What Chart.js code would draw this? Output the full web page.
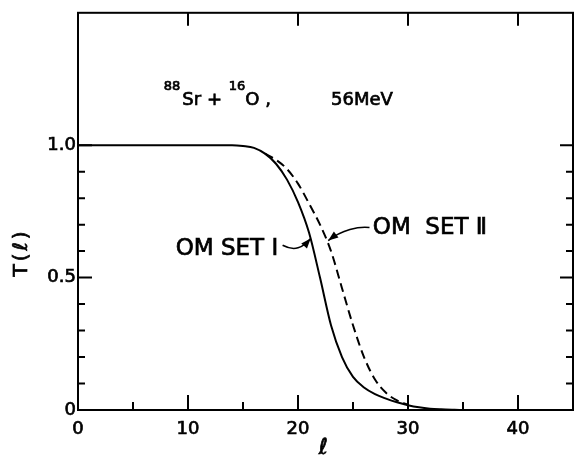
<!DOCTYPE html>
<html><head><meta charset="utf-8">
<script src="https://cdn.jsdelivr.net/npm/chart.js@4.4.1/dist/chart.umd.min.js"></script>
<style>html,body{margin:0;padding:0;background:#fff;}#wrap{width:575px;height:458px;position:relative;}</style>
</head><body><div id="wrap"><canvas id="c"></canvas></div>
<script>
// ---- data ----
const ellSetI = [0,2,4,6,8,10,12,14,15,16,17,18,19,20,21,22,23,24,25,26,27,28,29,30,31,32,33,34,35,36];
const tSetI   = [1,1,1,1,1,1,1,1,0.997,0.99,0.968,0.93,0.87,0.785,0.67,0.50,0.32,0.20,0.125,0.085,0.06,0.043,0.029,0.018,0.01,0.005,0.0025,0.001,0,0];
const ellSetII = [17,18,19,20,21,22,23,24,25,26,27,28,29,30];
const tSetII   = [0.968,0.945,0.91,0.855,0.78,0.70,0.60,0.46,0.32,0.20,0.115,0.065,0.036,0.02];
const xTickValues = [0,10,20,30,40];
const xTickLabels = ['0','10','20','30','40'];
const xMinorValues = [5,15,25,35];
const yTickValues = [0,0.5,1.0];
const yTickLabels = ['0','0.5','1.0'];
const yMinorValues = [0.1,0.2,0.3,0.4,0.6,0.7,0.8,0.9];
const labelSetI = 'OM SET Ⅰ';
const labelSetII = 'OM  SET Ⅱ';
// annotation anchor points in data units
const labelSetIPos = [18.2, 0.608];   // right end of text
const labelSetIIPos = [26.8, 0.687];  // left end of text
const arrowSetI = [[18.6,0.622],[19.7,0.598],[20.4,0.612],[21.15,0.648]];
const arrowSetII = [[26.5,0.689],[25.5,0.694],[24.0,0.680],[22.75,0.640]];
const titlePos = [7.8, 1.15];
const yTitlePos = 0.595;
const xTitlePos = 22.3;

const FONT = "'DejaVu Sans', sans-serif";

const pts = (xs, ys) => xs.map((x, i) => ({x: x, y: ys[i]}));

const decor = {
  id: 'decor',
  afterDraw(chart) {
    const ctx = chart.ctx, a = chart.chartArea;
    const xs = chart.scales.x, ys = chart.scales.y;
    const px = v => xs.getPixelForValue(v), py = v => ys.getPixelForValue(v);
    const txt = (s, x, y) => { ctx.fillText(s, x, y); ctx.strokeText(s, x, y); };
    ctx.save();
    ctx.strokeStyle = '#000'; ctx.fillStyle = '#000';
    ctx.lineWidth = 2;
    ctx.strokeRect(a.left, a.top, a.right - a.left, a.bottom - a.top);
    ctx.beginPath();
    // bottom ticks (inward)
    xTickValues.forEach(v => { if (v > 0) { ctx.moveTo(px(v), a.bottom); ctx.lineTo(px(v), a.bottom - 15); } });
    xMinorValues.forEach(v => { ctx.moveTo(px(v), a.bottom); ctx.lineTo(px(v), a.bottom - 8); });
    // top ticks
    xTickValues.forEach(v => { if (v > 0) { ctx.moveTo(px(v), a.top); ctx.lineTo(px(v), a.top + 13); } });
    // left & right ticks
    yTickValues.forEach(v => { if (v > 0) {
      ctx.moveTo(a.left, py(v)); ctx.lineTo(a.left + 14, py(v));
      ctx.moveTo(a.right, py(v)); ctx.lineTo(a.right - 13, py(v)); } });
    yMinorValues.forEach(v => {
      ctx.moveTo(a.left, py(v)); ctx.lineTo(a.left + 7, py(v));
      ctx.moveTo(a.right, py(v)); ctx.lineTo(a.right - 7, py(v)); });
    ctx.stroke();

    ctx.lineWidth = 0.7;
    // title  88Sr + 16O,   56MeV
    ctx.textBaseline = 'alphabetic'; ctx.textAlign = 'left';
    let x = px(titlePos[0]); const yb = py(titlePos[1]);
    const parts = [['88',13,-15,2],['Sr + ',18,0,1],['16',13,-15,0],['O ,',18,0,0]];
    parts.forEach(p => { ctx.font = p[1] + 'px ' + FONT; txt(p[0], x, yb + p[2]); x += ctx.measureText(p[0]).width + p[3]; });
    ctx.font = '18px ' + FONT;
    txt('56MeV', px(23.0), yb);

    // curve labels
    ctx.font = '23px ' + FONT;
    ctx.textBaseline = 'middle';
    ctx.textAlign = 'right';
    txt(labelSetI, px(labelSetIPos[0]), py(labelSetIPos[1]));
    ctx.textAlign = 'left';
    txt(labelSetII, px(labelSetIIPos[0]), py(labelSetIIPos[1]));

    // axis titles
    ctx.textAlign = 'center';
    ctx.save();
    ctx.translate(a.left - 56, py(yTitlePos));
    ctx.rotate(-Math.PI / 2);
    ctx.font = '20px ' + FONT;
    ctx.letterSpacing = '3px';
    txt('T(ℓ)', 0, 0);
    ctx.restore();
    ctx.font = 'italic 22px ' + FONT;
    txt('ℓ', px(xTitlePos), a.bottom + 38);

    // arrows
    const drawArrow = (pp) => {
      const p = pp.map(q => [px(q[0]), py(q[1])]);
      ctx.lineWidth = 1.6;
      ctx.beginPath();
      ctx.moveTo(p[0][0], p[0][1]);
      ctx.bezierCurveTo(p[1][0], p[1][1], p[2][0], p[2][1], p[3][0], p[3][1]);
      ctx.stroke();
      const ang = Math.atan2(p[3][1] - p[2][1], p[3][0] - p[2][0]);
      const L = 10, W = 3.8;
      ctx.beginPath();
      ctx.moveTo(p[3][0], p[3][1]);
      ctx.lineTo(p[3][0] - L*Math.cos(ang) + W*Math.sin(ang), p[3][1] - L*Math.sin(ang) - W*Math.cos(ang));
      ctx.lineTo(p[3][0] - L*Math.cos(ang) - W*Math.sin(ang), p[3][1] - L*Math.sin(ang) + W*Math.cos(ang));
      ctx.closePath(); ctx.fill();
    };
    drawArrow(arrowSetI);
    drawArrow(arrowSetII);
    ctx.restore();
  }
};

new Chart(document.getElementById('c'), {
  type: 'line',
  data: {
    datasets: [
      { label: 'OM SET I', data: pts(ellSetI, tSetI), borderColor: '#000', borderWidth: 2,
        pointRadius: 0, fill: false, cubicInterpolationMode: 'monotone' },
      { label: 'OM SET II', data: pts(ellSetII, tSetII), borderColor: '#000', borderWidth: 2,
        borderDash: [9, 5], pointRadius: 0, fill: false, cubicInterpolationMode: 'monotone' }
    ]
  },
  options: {
    responsive: true, maintainAspectRatio: false, animation: false, devicePixelRatio: 1,
    layout: { padding: { top: 7, right: 2, left: 0, bottom: 0 } },
    plugins: { legend: { display: false }, tooltip: { enabled: false } },
    scales: {
      x: {
        type: 'linear', min: 0, max: 45,
        afterBuildTicks: s => { s.ticks = xTickValues.map(v => ({ value: v })); },
        afterFit: s => { s.height = 48; },
        grid: { display: false, drawTicks: false }, border: { display: false },
        ticks: { color: '#000', font: { family: FONT, size: 18 }, padding: 9, maxRotation: 0,
          textStrokeColor: '#000', textStrokeWidth: 0.7,
          callback: (v) => xTickLabels[xTickValues.indexOf(v)] },
        title: { display: false }
      },
      y: {
        type: 'linear', min: 0, max: 1.5,
        afterBuildTicks: s => { s.ticks = yTickValues.map(v => ({ value: v })); },
        afterFit: s => { s.width = 78; },
        grid: { display: false, drawTicks: false }, border: { display: false },
        ticks: { color: '#000', font: { family: FONT, size: 18 }, padding: 2,
          textStrokeColor: '#000', textStrokeWidth: 0.7,
          callback: (v) => yTickLabels[yTickValues.indexOf(v)] },
        title: { display: false }
      }
    }
  },
  plugins: [decor]
});
</script></body></html>
